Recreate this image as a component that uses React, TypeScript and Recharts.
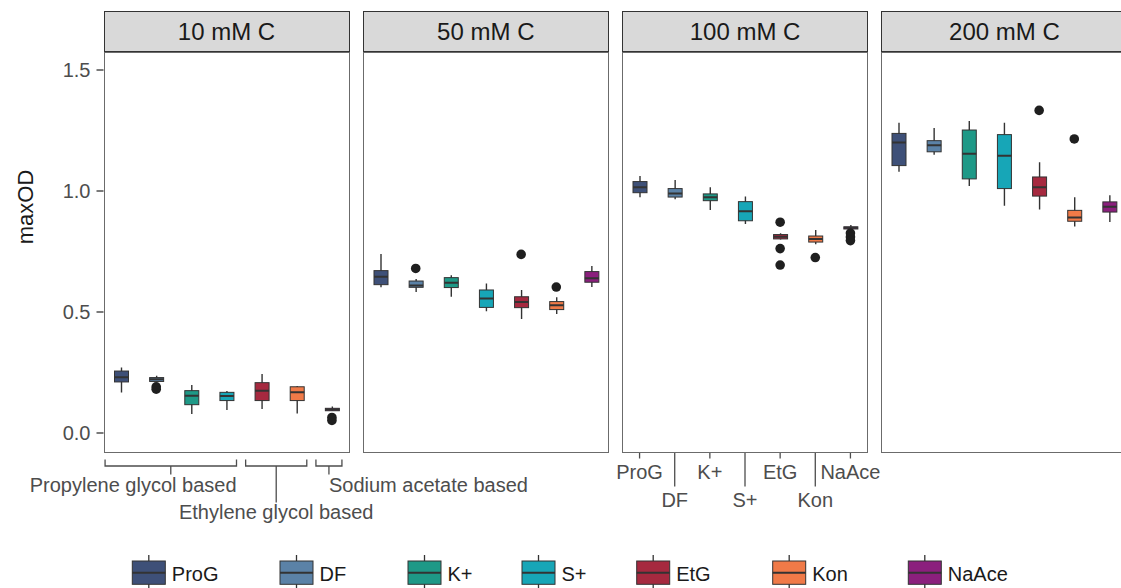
import React from 'react';
import { ComposedChart, Bar, Line, XAxis, YAxis } from 'recharts';

// ---------- data ----------
const CATEGORIES = ['ProG', 'DF', 'K+', 'S+', 'EtG', 'Kon', 'NaAce'];
const COLORS = ['#3e5078', '#5b82a7', '#1e9987', '#17a6b7', '#a6293f', '#f07a48', '#8b1f7d'];
const PANELS = ['10 mM C', '50 mM C', '100 mM C', '200 mM C'];
const Y_TICKS = [0, 0.5, 1.0, 1.5];

// [lower whisker, Q1, median, Q3, upper whisker] per category
const BOX_10 = [
  [0.167, 0.211, 0.23, 0.256, 0.271],
  [0.213, 0.213, 0.222, 0.229, 0.237],
  [0.079, 0.117, 0.154, 0.175, 0.198],
  [0.095, 0.134, 0.153, 0.168, 0.174],
  [0.099, 0.134, 0.175, 0.208, 0.244],
  [0.081, 0.134, 0.168, 0.191, 0.194],
  [0.092, 0.092, 0.097, 0.102, 0.109],
];
const OUT_10 = [[], [0.191, 0.181], [], [], [], [], [0.064, 0.052]];

const BOX_50 = [
  [0.602, 0.613, 0.646, 0.671, 0.74],
  [0.583, 0.602, 0.609, 0.628, 0.636],
  [0.563, 0.601, 0.621, 0.642, 0.652],
  [0.503, 0.519, 0.556, 0.591, 0.618],
  [0.471, 0.518, 0.541, 0.563, 0.591],
  [0.492, 0.51, 0.528, 0.543, 0.561],
  [0.603, 0.623, 0.639, 0.667, 0.69],
];
const OUT_50 = [[], [0.68], [], [], [0.738], [0.603], []];

const BOX_100 = [
  [0.974, 0.993, 1.015, 1.039, 1.062],
  [0.966, 0.975, 0.99, 1.01, 1.045],
  [0.921, 0.96, 0.974, 0.988, 1.015],
  [0.864, 0.877, 0.916, 0.956, 0.977],
  [0.8, 0.802, 0.811, 0.82, 0.825],
  [0.78, 0.789, 0.802, 0.814, 0.839],
  [0.843, 0.843, 0.848, 0.852, 0.86],
];
const OUT_100 = [[], [], [], [], [0.871, 0.762, 0.694], [0.725], [0.826, 0.81, 0.795]];

const BOX_200 = [
  [1.08, 1.105, 1.2, 1.238, 1.282],
  [1.15, 1.162, 1.189, 1.208, 1.26],
  [1.021, 1.05, 1.154, 1.252, 1.289],
  [0.939, 1.01, 1.146, 1.233, 1.282],
  [0.924, 0.979, 1.015, 1.058, 1.119],
  [0.853, 0.875, 0.891, 0.92, 0.974],
  [0.872, 0.913, 0.935, 0.955, 0.982],
];
const OUT_200 = [[], [], [], [], [1.333], [1.215], []];

const PANEL_BOXES = [BOX_10, BOX_50, BOX_100, BOX_200];
const PANEL_OUTLIERS = [OUT_10, OUT_50, OUT_100, OUT_200];

const GROUP_LABELS = ['Propylene glycol based', 'Ethylene glycol based', 'Sodium acetate based'];
const GROUP_FROM = [0, 4, 6];
const GROUP_TO = [3, 5, 6];

// ---------- layout ----------
const PANEL_LEFT = [103.5, 362.8, 622.1, 881.4];
const PANEL_W = 246;
const BAND = PANEL_W / CATEGORIES.length;
const STRIP_TOP = 11;
const PLOT_TOP = 52;
const PLOT_BOTTOM = 452.5;
const XAXIS_H = 80;
const CHART_H = PLOT_BOTTOM + XAXIS_H;
const Y_AXIS_W = 103.5;
const DOMAIN: [number, number] = [-0.0806, 1.5744];
const FONT = '"Liberation Sans", Arial, Helvetica, sans-serif';
const TEXT_GREY = '#4d4d4d';
const LINE_GREY = '#333333';

// group label layout: anchor and row
const GROUP_ANCHOR: ('start' | 'middle' | 'end')[] = ['end', 'middle', 'start'];
const GROUP_ROW = [0, 1, 0];

const LEGEND_X = [132.3, 280, 408, 522, 636.7, 772.7, 908.3];

function buildRows(p: number) {
  const boxes = PANEL_BOXES[p];
  const outs = PANEL_OUTLIERS[p];
  return CATEGORIES.map((cat, i) => ({
    cat,
    idx: i,
    stats: boxes[i],
    range: [boxes[i][0], boxes[i][4]],
    o0: outs[i][0] ?? null,
    o1: outs[i][1] ?? null,
    o2: outs[i][2] ?? null,
  }));
}

const BoxShape = (props: any) => {
  const { x, y, width, height, payload } = props;
  if (!payload) return null;
  const [lo, q1, med, q3, hi] = payload.stats;
  const top = Math.min(y, y + height);
  const bot = Math.max(y, y + height);
  const span = hi - lo;
  const py = (v: number) => (span === 0 ? top : top + ((hi - v) / span) * (bot - top));
  const cx = x + width / 2;
  const color = COLORS[payload.idx];
  return (
    <g>
      <line x1={cx} x2={cx} y1={py(hi)} y2={py(lo)} stroke={LINE_GREY} strokeWidth={1.4} />
      <rect
        x={x}
        y={py(q3)}
        width={width}
        height={Math.max(py(q1) - py(q3), 0.5)}
        fill={color}
        stroke={LINE_GREY}
        strokeWidth={1}
      />
      <line x1={x} x2={x + width} y1={py(med)} y2={py(med)} stroke={LINE_GREY} strokeWidth={2} />
    </g>
  );
};

const makeTick = (p: number) => (props: any) => {
  const { x, y, payload, index } = props;
  if (p === 2) {
    const long = index % 2 === 1;
    return (
      <g>
        <line x1={x} x2={x} y1={y} y2={y + (long ? 34 : 6)} stroke={TEXT_GREY} strokeWidth={1.3} />
        <text x={x} y={y + (long ? 54.5 : 26)} textAnchor="middle" fontSize={20} fill={TEXT_GREY}>
          {payload.value}
        </text>
      </g>
    );
  }
  if (p === 0) {
    const g = GROUP_FROM.indexOf(index);
    if (g < 0) return <g />;
    const span = GROUP_TO[g] - GROUP_FROM[g];
    const left = x - 16;
    const right = x + span * BAND + 10;
    const mid = (left + right) / 2;
    const row = GROUP_ROW[g];
    const anchor = GROUP_ANCHOR[g];
    const tx = anchor === 'end' ? right : mid;
    return (
      <g>
        <polyline
          points={`${left},${y + 7} ${left},${y + 13.5} ${right},${y + 13.5} ${right},${y + 7}`}
          fill="none"
          stroke={TEXT_GREY}
          strokeWidth={1.3}
        />
        <line x1={mid} x2={mid} y1={y + 13.5} y2={y + (row === 1 ? 50 : 22)} stroke={TEXT_GREY} strokeWidth={1.3} />
        <text x={tx} y={y + (row === 1 ? 66.5 : 39.5)} textAnchor={anchor} fontSize={20} fill={TEXT_GREY}>
          {GROUP_LABELS[g]}
        </text>
      </g>
    );
  }
  return <g />;
};

const YLabel = () => (
  <text
    x={25}
    y={207}
    transform="rotate(-90, 25, 207)"
    textAnchor="middle"
    dominantBaseline="central"
    fontSize={22}
    fill="#1a1a1a"
  >
    maxOD
  </text>
);

function Panel({ p }: { p: number }) {
  const first = p === 0;
  const left = first ? 0 : PANEL_LEFT[p];
  const width = first ? Y_AXIS_W + PANEL_W : PANEL_W;
  const rows = buildRows(p);
  return (
    <div style={{ position: 'absolute', left, top: 0, width, height: CHART_H, overflow: 'visible' }}>
      <ComposedChart
        width={width}
        height={CHART_H}
        data={rows}
        margin={{ top: PLOT_TOP, right: 0, bottom: 0, left: 0 }}
        barCategoryGap={0}
        style={{ overflow: 'visible' }}
      >
        <XAxis
          dataKey="cat"
          type="category"
          interval={0}
          height={XAXIS_H}
          axisLine={false}
          tickLine={false}
          tickSize={0}
          tickMargin={0}
          tick={makeTick(p)}
          padding={{ left: 0, right: 0 }}
        />
        <YAxis
          type="number"
          domain={DOMAIN}
          allowDataOverflow
          ticks={Y_TICKS}
          hide={!first}
          width={first ? Y_AXIS_W : 0}
          axisLine={false}
          tickSize={7}
          tickMargin={6}
          tickLine={{ stroke: LINE_GREY, strokeWidth: 1.3 }}
          tick={{ fontSize: 20, fill: TEXT_GREY }}
          tickFormatter={(v: number) => v.toFixed(1)}
          label={first ? <YLabel /> : undefined}
        />
        <Bar dataKey="range" barSize={14} shape={BoxShape} isAnimationActive={false} />
        {['o0', 'o1', 'o2'].map((k) => (
          <Line
            key={k}
            dataKey={k}
            stroke="none"
            dot={{ r: 4.8, fill: '#1f1f1f', stroke: 'none' }}
            activeDot={false}
            isAnimationActive={false}
            connectNulls={false}
            legendType="none"
          />
        ))}
      </ComposedChart>
    </div>
  );
}

function Legend() {
  return (
    <svg width={1121} height={588} style={{ position: 'absolute', left: 0, top: 0, pointerEvents: 'none' }}>
      {CATEGORIES.map((c, i) => {
        const x = LEGEND_X[i];
        return (
          <g key={c}>
            <line x1={x + 16.5} x2={x + 16.5} y1={555} y2={590} stroke={LINE_GREY} strokeWidth={1.3} />
            <rect x={x} y={561} width={33} height={23.3} fill={COLORS[i]} stroke={LINE_GREY} strokeWidth={1} />
            <line x1={x} x2={x + 33} y1={572.8} y2={572.8} stroke={LINE_GREY} strokeWidth={2} />
            <text x={x + 39.5} y={580.7} fontSize={20} fill="#1a1a1a" fontFamily={FONT}>
              {c}
            </text>
          </g>
        );
      })}
    </svg>
  );
}

export default function App() {
  return (
    <div
      style={{
        position: 'fixed',
        left: 0,
        top: 0,
        width: 1121,
        height: 588,
        overflow: 'hidden',
        background: '#ffffff',
        fontFamily: FONT,
      }}
    >
      <style>{'.recharts-surface, .recharts-wrapper svg { overflow: visible !important; } .recharts-wrapper { overflow: visible !important; }'}</style>
      {PANELS.map((name, p) => (
        <Panel key={name} p={p} />
      ))}
      {PANELS.map((name, p) => (
        <React.Fragment key={'frame' + name}>
          <div
            style={{
              position: 'absolute',
              left: PANEL_LEFT[p],
              top: STRIP_TOP,
              width: PANEL_W,
              height: PLOT_TOP - STRIP_TOP,
              boxSizing: 'border-box',
              background: '#d9d9d9',
              border: '1.3px solid #333333',
              display: 'flex',
              alignItems: 'center',
              justifyContent: 'center',
              fontSize: 24,
              color: '#1a1a1a',
            }}
          >
            {name}
          </div>
          <div
            style={{
              position: 'absolute',
              left: PANEL_LEFT[p],
              top: PLOT_TOP,
              width: PANEL_W,
              height: PLOT_BOTTOM - PLOT_TOP,
              boxSizing: 'border-box',
              border: '1.4px solid #6b6b6b',
              pointerEvents: 'none',
            }}
          />
        </React.Fragment>
      ))}
      <Legend />
    </div>
  );
}
